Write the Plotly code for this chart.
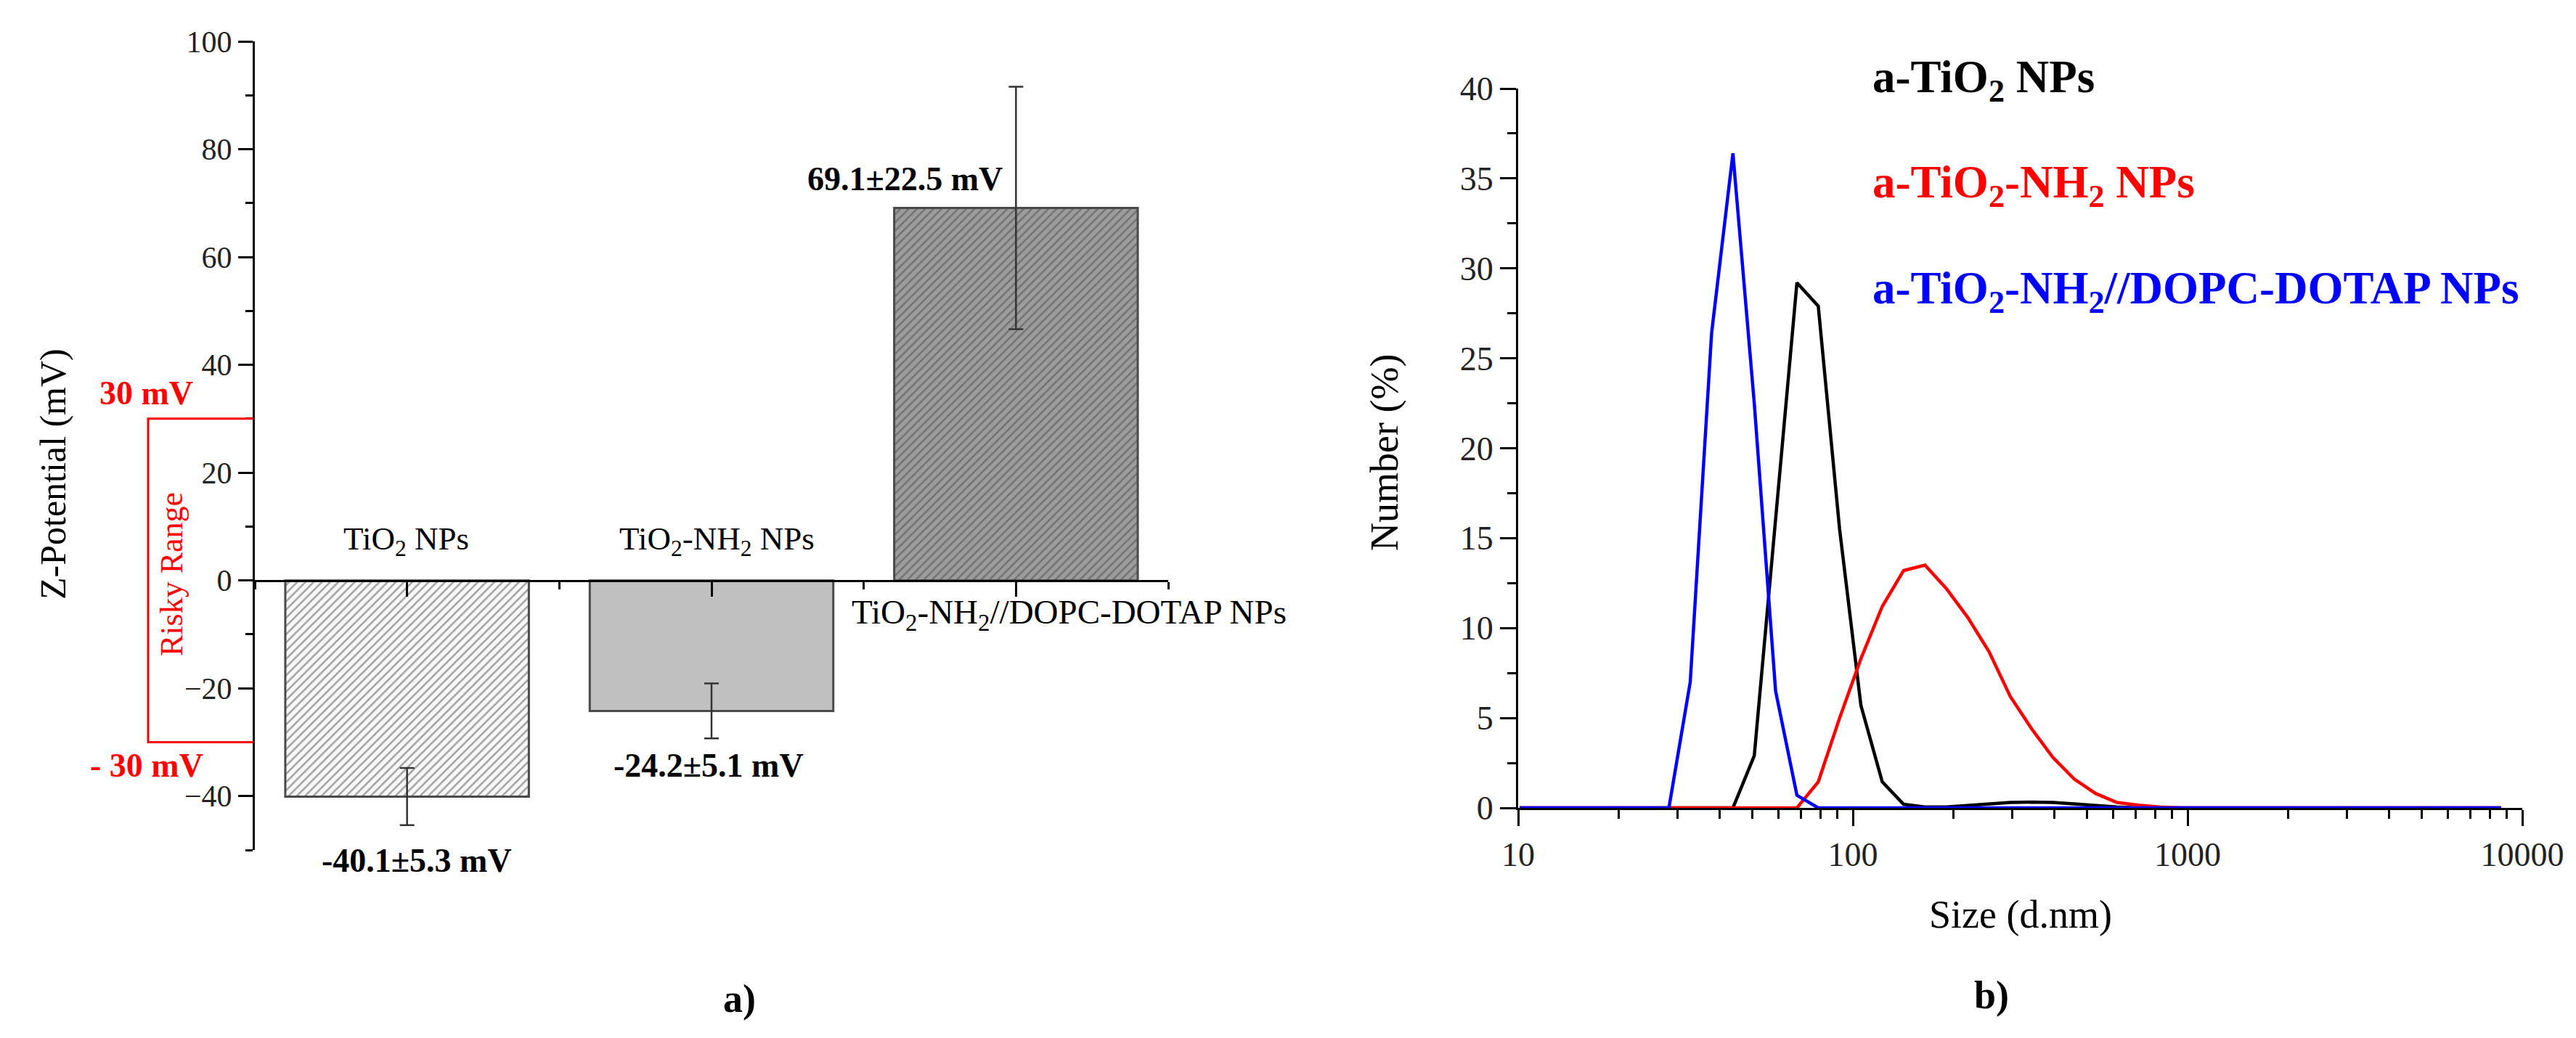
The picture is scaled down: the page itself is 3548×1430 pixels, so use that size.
import plotly.graph_objects as go

# ---- data: panel a) zeta potential ----
SAMPLES = ["TiO<sub>2</sub> NPs", "TiO<sub>2</sub>-NH<sub>2</sub> NPs", "TiO<sub>2</sub>-NH<sub>2</sub>//DOPC-DOTAP NPs"]
ZETA_MV = [-40.1, -24.2, 69.1]
ZETA_SD = [5.3, 5.1, 22.5]
RISKY_LIMIT = 30

# ---- data: panel b) DLS number distribution ----
SIZE_TIO2 = [10.1, 43.82, 50.75, 58.77, 68.06, 78.82, 91.28, 105.7, 122.4, 141.8, 164.2, 190.1,
             220.2, 255.0, 295.3, 342.0, 396.1, 458.7, 531.2, 615.1, 712.4, 8635]
NUM_TIO2 = [0, 0, 2.9, 16.0, 29.2, 27.9, 15.5, 5.7, 1.45, 0.2, 0.05, 0.05,
            0.12, 0.22, 0.3, 0.32, 0.3, 0.22, 0.12, 0.05, 0, 0]

SIZE_NH2 = [10.1, 68.06, 78.82, 91.28, 105.7, 122.4, 141.8, 164.2, 190.1, 220.2, 255.0,
            295.3, 342.0, 396.1, 458.7, 531.2, 615.1, 712.4, 825.0, 955.4, 8635]
NUM_NH2 = [0, 0, 1.45, 5.0, 8.3, 11.2, 13.2, 13.5, 12.2, 10.6, 8.7,
           6.2, 4.4, 2.8, 1.6, 0.8, 0.3, 0.15, 0.05, 0, 0]

SIZE_DOTAP = [10.1, 28.21, 32.67, 37.84, 43.82, 50.75, 58.77, 68.06, 78.82, 8635]
NUM_DOTAP = [0, 0, 7.0, 26.4, 36.4, 22.5, 6.5, 0.7, 0, 0]

X_TICKS_B = [10, 100, 1000, 10000]
X_MINOR_B = [m * 10 ** d for d in (1, 2, 3) for m in range(2, 10)]

W, H = 3548, 1430
FONT = "Liberation Serif"


def px(x):
    return x / W


def py(y):
    return 1 - y / H


fig = go.Figure()

fig.add_trace(
    go.Bar(
        x=[1, 2, 3],
        y=ZETA_MV,
        width=0.8,
        marker=dict(
            color=["#f7f7f7", "#c0c0c0", "#9c9c9c"],
            line=dict(color="#4a4a4a", width=3),
            pattern=dict(
                shape=["/", "", "/"],
                fgcolor=["#dadada", "#c0c0c0", "#626262"],
                fillmode="overlay",
                size=8,
                solidity=0.3,
            ),
        ),
        error_y=dict(type="data", array=ZETA_SD, color="#333333", thickness=2.5, width=10),
        xaxis="x",
        yaxis="y",
        hoverinfo="skip",
    )
)

for sizes, values, color in [
    (SIZE_TIO2, NUM_TIO2, "#000000"),
    (SIZE_NH2, NUM_NH2, "#ff0000"),
    (SIZE_DOTAP, NUM_DOTAP, "#0000ff"),
]:
    fig.add_trace(
        go.Scatter(x=sizes, y=values, mode="lines", line=dict(color=color, width=4.5), xaxis="x2", yaxis="y2")
    )

axis_common = dict(
    showline=True,
    linecolor="black",
    linewidth=3,
    ticks="outside",
    tickcolor="black",
    tickwidth=3,
    showgrid=False,
    zeroline=False,
    automargin=False,
)

ya_bottom, ya_top = py(1163), py(49)
fig.update_layout(
    width=W,
    height=H,
    autosize=False,
    margin=dict(l=0, r=0, t=0, b=0, pad=0),
    paper_bgcolor="white",
    plot_bgcolor="white",
    showlegend=False,
    font=dict(family=FONT, color="black"),
    xaxis=dict(
        **axis_common,
        domain=[px(343), px(1601)],
        range=[0.5, 3.5],
        anchor="free",
        position=ya_bottom + (50 / 150) * (ya_top - ya_bottom),
        tickvals=[1, 2, 3],
        ticklen=20,
        showticklabels=False,
        minor=dict(tickvals=[0.5, 1.5, 2.5, 3.5], ticks="outside", ticklen=10, tickwidth=3, tickcolor="black"),
    ),
    yaxis=dict(
        **axis_common,
        domain=[ya_bottom, ya_top],
        range=[-50, 100],
        anchor="x",
        tick0=0,
        dtick=20,
        ticklen=20,
        tickfont=dict(size=42, color="#222222"),
        minor=dict(dtick=10, ticks="outside", ticklen=10, tickwidth=3, tickcolor="black"),
    ),
    xaxis2=dict(
        **axis_common,
        domain=[px(2083), px(3466)],
        type="log",
        range=[1, 4],
        anchor="y2",
        tickvals=X_TICKS_B,
        ticktext=[str(v) for v in X_TICKS_B],
        ticklen=22,
        tickfont=dict(size=46, color="#222222"),
        minor=dict(tickvals=X_MINOR_B, ticks="outside", ticklen=12, tickwidth=3, tickcolor="black"),
    ),
    yaxis2=dict(
        **axis_common,
        domain=[py(1105), py(114)],
        range=[0, 40],
        anchor="x2",
        dtick=5,
        ticklen=22,
        tickfont=dict(size=46, color="#222222"),
        minor=dict(dtick=2.5, ticks="outside", ticklen=12, tickwidth=3, tickcolor="black"),
    ),
)

# risky range bracket (open towards the y axis)
x_axis_a, x_box = px(341), px(196)
fig.add_shape(
    type="path",
    path=f"M {x_axis_a},{RISKY_LIMIT} L {x_box},{RISKY_LIMIT} L {x_box},{-RISKY_LIMIT} L {x_axis_a},{-RISKY_LIMIT}",
    xref="paper",
    yref="y",
    line=dict(color="#ff0000", width=3),
)


def note(text, x, y, size, color="black", angle=0, xanchor="center"):
    fig.add_annotation(
        text=text,
        x=px(x),
        y=py(y),
        xref="paper",
        yref="paper",
        xanchor=xanchor,
        yanchor="middle",
        showarrow=False,
        textangle=angle,
        font=dict(family=FONT, size=size, color=color),
    )


# panel a) texts
note("Z-Potential (mV)", 65, 645, 50, angle=-90)
note(SAMPLES[0], 551, 737, 45)
note(SAMPLES[1], 979, 737, 45)
note(SAMPLES[2], 1163, 838, 47, xanchor="left")
note("<b>-40.1±5.3 mV</b>", 566, 1177, 46)
note("<b>-24.2±5.1 mV</b>", 968, 1046, 46)
note("<b>69.1±22.5 mV</b>", 1238, 238, 46)
note(f"<b>{RISKY_LIMIT} mV</b>", 193, 533, 46, color="#ff0000")
note(f"<b>- {RISKY_LIMIT} mV</b>", 194, 1046, 46, color="#ff0000")
note("Risky Range", 228, 783, 44, color="#ff0000", angle=-90)
note("<b>a)</b>", 1010, 1368, 54)

# panel b) texts
note("Number (%)", 1899, 616, 54, angle=-90)
note("Size (d.nm)", 2775, 1252, 54)
note("<b>b)</b>", 2735, 1363, 54)
note("<b>a-TiO<sub>2</sub> NPs</b>", 2569, 102, 63, xanchor="left")
note("<b>a-TiO<sub>2</sub>-NH<sub>2</sub> NPs</b>", 2569, 247, 63, color="#ff0000", xanchor="left")
note("<b>a-TiO<sub>2</sub>-NH<sub>2</sub>//DOPC-DOTAP NPs</b>", 2569, 394, 63, color="#0000ff", xanchor="left")

fig.write_html("out.html")
